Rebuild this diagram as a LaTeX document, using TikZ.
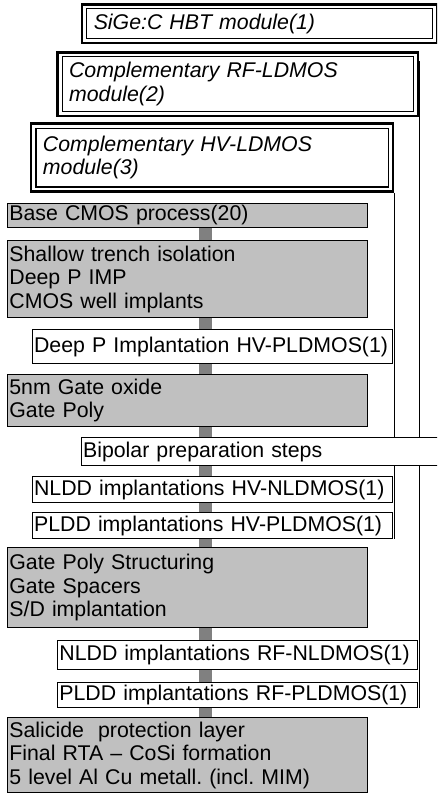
\documentclass[tikz,border=0pt]{standalone}
\usepackage{fontspec}
\setmainfont{Liberation Sans}
\usetikzlibrary{backgrounds}
\frenchspacing

\definecolor{stepgray}{HTML}{C0C0C0}
\definecolor{flowgray}{HTML}{808080}

\tikzset{
  every node/.style={font=\fontsize{21.3}{23.5}\selectfont},
  basebox/.style={draw=black, line width=1pt, anchor=north west,
    inner ysep=0pt, inner xsep=1.6pt, align=left, rectangle},
  graystep/.style={basebox, fill=stepgray},
  whitestep/.style={basebox, fill=white},
  module/.style={draw=black, line width=2.5pt, fill=white, anchor=north west,
    inner ysep=0pt, inner xsep=11.8pt, align=left,
    font=\fontsize{21.3}{23.5}\selectfont\itshape,
    path picture={
      \draw[line width=1.2pt]
        ([shift={(5pt,-4.6pt)}]path picture bounding box.north west) rectangle
        ([shift={(-4.6pt,4.6pt)}]path picture bounding box.south east);
    }},
  flowbar/.style={draw=flowgray, line width=12.4pt, line cap=butt},
  modline/.style={draw=black, line width=1pt},
}

\begin{document}
\begin{tikzpicture}[x=1pt, y=-1pt]
  \useasboundingbox (0,0) rectangle (437,795);
  \clip (0,0) rectangle (437,795);

  % optional process modules
  \node[module, minimum width=355pt, minimum height=38.5pt, text width=331pt]
    (sige) at (80.5,3) {SiGe:C HBT module(1)};
  \node[module, minimum width=360.7pt, minimum height=63.5pt, text width=337pt]
    (rf) at (56,51) {Complementary RF-LDMOS\\module(2)};
  \node[module, minimum width=362pt, minimum height=68pt, text width=338pt]
    (hv) at (29.7,122.3) {Complementary HV-LDMOS\\module(3)};

  % process flow
  \node[graystep, minimum width=359.7pt, minimum height=24.5pt, text width=356.5pt]
    (base) at (7.3,202.5) {Base CMOS process(20)};
  \node[graystep, minimum width=359.7pt, minimum height=77.3pt, text width=356.5pt]
    (sti) at (7.3,240) {Shallow trench isolation\\Deep P IMP\\CMOS well implants};
  \node[whitestep, minimum width=359.5pt, minimum height=34pt, text width=356.3pt]
    (deepp) at (32,329) {Deep P Implantation HV-PLDMOS(1)};
  \node[graystep, minimum width=359.7pt, minimum height=52pt, text width=356.5pt]
    (gox) at (7.3,374) {5nm Gate oxide\\Gate Poly};
  \node[whitestep, minimum width=364pt, minimum height=28pt, text width=360.8pt]
    (bip) at (81,437) {Bipolar preparation steps};
  \node[whitestep, minimum width=359.5pt, minimum height=26pt, text width=356.3pt]
    (nhv) at (32,476) {NLDD implantations HV-NLDMOS(1)};
  \node[whitestep, minimum width=359.5pt, minimum height=26pt, text width=356.3pt]
    (phv) at (32,512) {PLDD implantations HV-PLDMOS(1)};
  \node[graystep, minimum width=359.7pt, minimum height=80pt, text width=356.5pt]
    (gps) at (7.3,547) {Gate Poly Structuring\\Gate Spacers\\S/D implantation};
  \node[whitestep, minimum width=359.7pt, minimum height=29pt, text width=356.5pt]
    (nrf) at (57.3,640) {NLDD implantations RF-NLDMOS(1)};
  \node[whitestep, minimum width=359.7pt, minimum height=25pt, text width=356.5pt]
    (prf) at (57.3,682) {PLDD implantations RF-PLDMOS(1)};
  \node[graystep, minimum width=359.7pt, minimum height=75pt, text width=356.5pt]
    (sal) at (7.3,717) {Salicide~ protection layer\\Final RTA -- CoSi formation\\5 level Al Cu metall. (incl. MIM)};

  \coordinate (barx) at (205.5,0);

  \begin{pgfonlayer}{background}
    % main flow spine
    \draw[flowbar] (base.south -| barx) -- (sal.north -| barx);
    % module feed lines
    \draw[modline] (hv.south east) -- (hv.south east |- phv.south);
    \draw[modline] ([yshift=-10pt]rf.north east) -- (rf.east |- prf.south);
  \end{pgfonlayer}
\end{tikzpicture}
\end{document}
